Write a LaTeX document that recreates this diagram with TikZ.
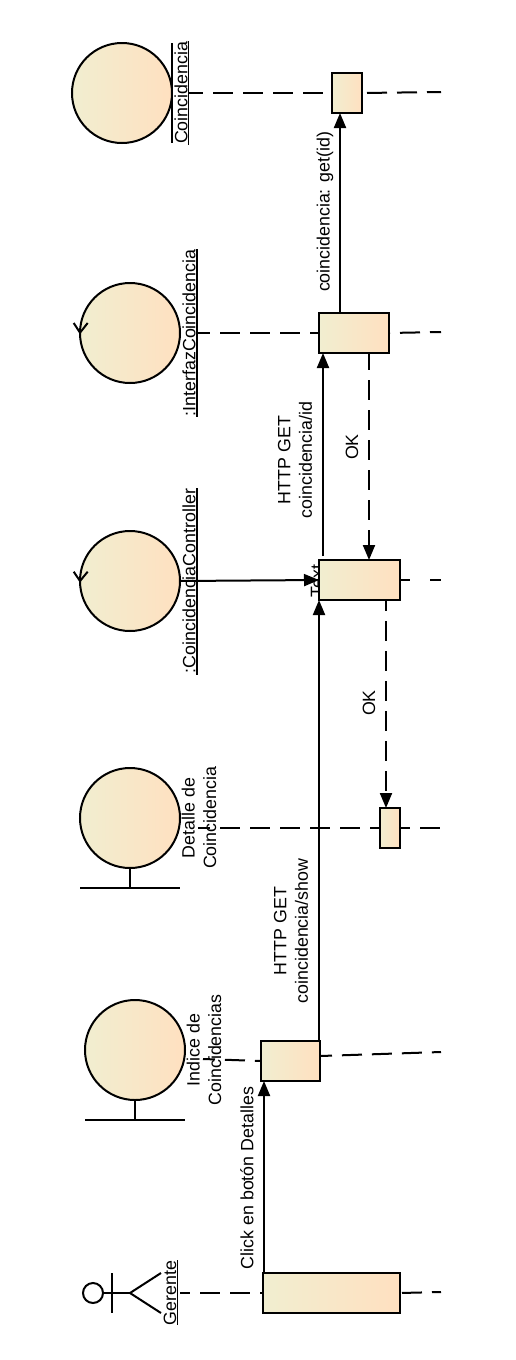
\documentclass[tikz,border=0pt]{standalone}
\usepackage{fontspec}
\setmainfont{Liberation Sans}
\usetikzlibrary{arrows.meta}
\definecolor{gradL}{HTML}{F1EED0}
\definecolor{gradR}{HTML}{FFE0C0}
\tikzset{
  x=1pt,y=-1pt,
  ln/.style={line width=2pt,draw=black},
  fillgrad/.style={left color=gradL,right color=gradR,middle color=gradL!50!gradR},
  actbox/.style={draw=black,line width=2pt,fillgrad,inner sep=0pt,outer sep=0pt,rectangle,minimum width=#1},
  actbox/.default=30pt,
  robust/.style={draw=black,line width=2pt,fillgrad,circle,inner sep=0pt,outer sep=0pt,minimum size=100pt},
  life/.style={ln,dash pattern=on 20pt off 10pt},
  msg/.style={ln,-{Triangle[length=15pt,width=12pt]}},
  ret/.style={ln,-{Triangle[length=15pt,width=12pt]}},
  lbl/.style={rotate=90,font=\fontsize{17.8}{21.5}\selectfont,align=center,inner sep=0pt,text=black},
  boxh/.style={minimum height=40pt}
}
\begin{document}
\begin{tikzpicture}
\useasboundingbox (0,0) rectangle (516,1360);
% robustness symbols
\node[robust] (cCoin) at (122,93) {};
\node[robust] (cInt) at (130,333) {};
\node[robust] (cCtl) at (130,581) {};
\node[robust] (cDet) at (130,818) {};
\node[robust] (cInd) at (135,1050) {};
% control chevrons
\draw[ln] (73.7,323) -- (80,332.7) -- (87.7,323);
\draw[ln] (73.7,571.7) -- (80,581) -- (87.7,571.7);
% boundary stems
\coordinate (detBar) at (130,888);
\draw[ln] (cDet.south) -- (detBar);
\draw[ln] (80,888) -- (180,888);
\coordinate (indBar) at (135,1120);
\draw[ln] (cInd.south) -- (indBar);
\draw[ln] (85,1120) -- (185,1120);
% actor
\node[draw=black,line width=2pt,circle,fill=white,minimum size=20pt,inner sep=0pt,outer sep=0pt] (head) at (93,1293) {};
\coordinate (hip) at (130,1293);
\draw[ln] (head.east) -- (hip);
\draw[ln] (112,1273) -- (112,1313);
\draw[ln] (161,1273) -- (hip) -- (161,1313);
% text hidden partly behind the box
\node[lbl] (txt) at (317,581) {Text};
% execution boxes
\node[actbox=30pt,boxh] (bCoin) at (347,93) {};
\node[actbox=70pt,boxh] (bInt) at (354,333) {};
\node[actbox=81pt,boxh] (bCtl) at (359.5,580) {};
\node[actbox=20pt,boxh] (bDet) at (390,828) {};
\node[actbox=59pt,boxh] (bInd) at (290.5,1061) {};
\node[actbox=137pt,boxh] (bGer) at (331.5,1293) {};
% labels
\node[lbl] (lCoin) at (181,93) {Coincidencia};
\node[lbl] (lInt) at (189,333) {:InterfazCoincidencia};
\node[lbl] (lCtl) at (189,581) {:CoincidenciaController};
\node[lbl] (lDet) at (199,818) {Detalle de\\Coincidencia};
\node[lbl] (lInd) at (204,1050) {Indice de\\Coincidencias};
\node[lbl] (lGer) at (170,1293) {Gerente};
\draw[line width=1.2pt] (188.5,41) -- (188.5,145);
\draw[line width=1.2pt] (172,43) -- (172,143);
\draw[line width=1.2pt] (197,249) -- (197,417);
\draw[line width=1.2pt] (197,488) -- (197,675);
\draw[line width=1.2pt] (177.5,1260) -- (177.5,1325);
% lifelines
\coordinate (eCoin) at (441,92);
\coordinate (eInt) at (441,332);
\coordinate (eCtl) at (441,580);
\coordinate (eDet) at (441,828);
\coordinate (eInd) at (441,1052);
\coordinate (eGer) at (441,1292);
\coordinate (sCoin) at (189,93);
\coordinate (sInt) at (197,333);
\coordinate (sDet) at (198,828);
\coordinate (sInd) at (203,1059);
\coordinate (sGer) at (180,1293);
\draw[life,dash phase=6pt] (sCoin) -- (bCoin.west);
\draw[life,dash phase=25pt] (bCoin.east) -- (eCoin);
\draw[life,dash phase=7pt] (sInt) -- (bInt.west);
\draw[life,dash phase=19pt] (bInt.east) -- (eInt);
\draw[ln,dash pattern=on 10pt off 20pt on 11pt off 0pt] (bCtl.east) -- (eCtl);
\draw[life,dash phase=8pt] (sDet) -- (bDet.west);
\draw[life,dash phase=10pt] (bDet.east) -- (eDet);
\draw[life,dash phase=8pt] (sInd) -- (bInd.west);
\draw[life,dash phase=8pt] ([yshift=5pt]bInd.east) -- (eInd);
\draw[life,dash phase=10pt] (sGer) -- (bGer.west);
\draw[life,dash phase=28pt] (bGer.east) -- (eGer);
% messages
\draw[msg] ([xshift=1pt]bGer.north west) -- ([xshift=3pt]bInd.south west);
\draw[msg] (cCtl.east) -- (bCtl.west);
\draw[msg] ([xshift=-1pt]bInd.north east) -- (bCtl.south west);
\draw[msg] ([xshift=4pt,yshift=4pt]bCtl.north west) -- ([xshift=4pt]bInt.south west);
\draw[msg] ([xshift=21pt]bInt.north west) -- ([xshift=8pt]bCoin.south west);
\draw[ret,dash pattern=on 20pt off 10pt,dash phase=3pt] ([xshift=50pt]bInt.south west) -- ([xshift=50pt]bCtl.north west);
\draw[ret,dash pattern=on 20pt off 10pt,dash phase=9pt] ([xshift=67pt]bCtl.south west) -- ([xshift=6pt]bDet.north west);
% message labels
\node[lbl] (mGet) at (325,212) {coincidencia: get(id)};
\node[lbl] (mId) at (295,460) {HTTP GET\\coincidencia/id};
\node[lbl] (mOk1) at (352,447) {OK};
\node[lbl] (mOk2) at (369,703) {OK};
\node[lbl] (mShow) at (291,931) {HTTP GET\\coincidencia/show};
\node[lbl] (mClick) at (247,1178) {Click en botón Detalles};
\end{tikzpicture}
\end{document}
